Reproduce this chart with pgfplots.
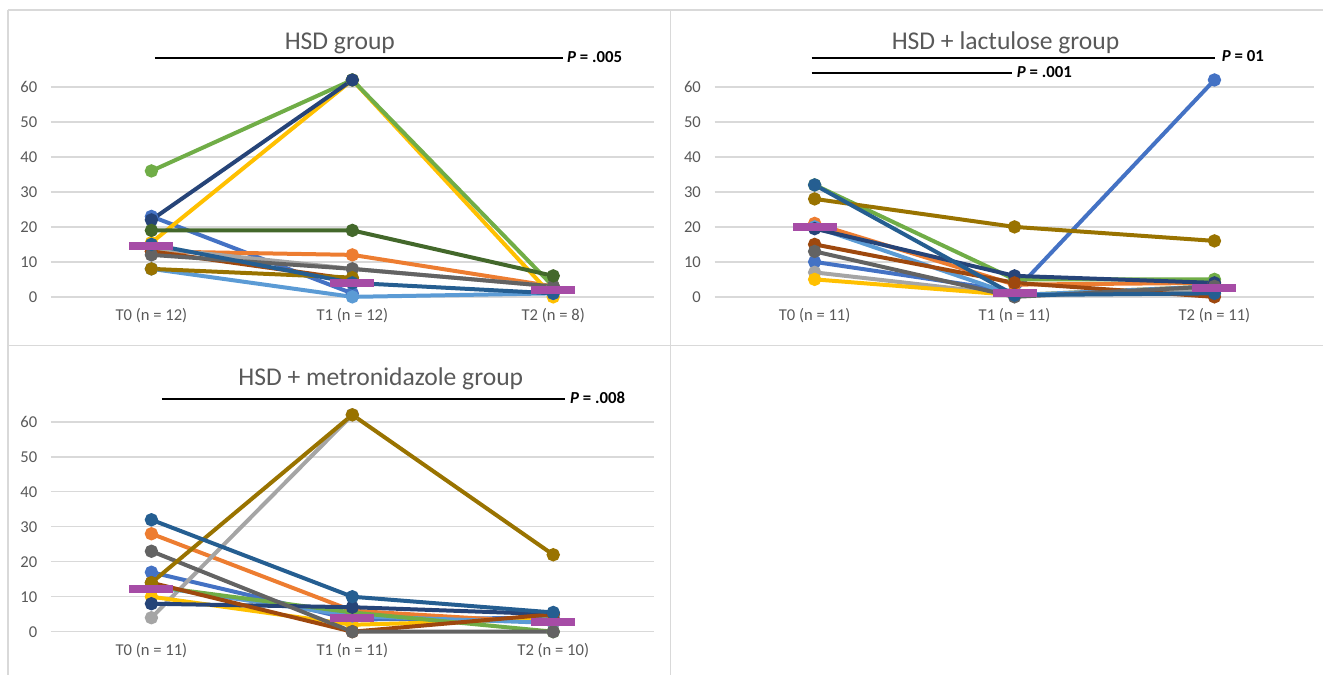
\documentclass[border=0pt]{standalone}
\usepackage{fontspec}
\setmainfont{Carlito}
\usepackage{pgfplots}
\pgfplotsset{compat=1.18}
\definecolor{c1}{HTML}{4472C4}
\definecolor{c2}{HTML}{ED7D31}
\definecolor{c3}{HTML}{A5A5A5}
\definecolor{c4}{HTML}{FFC000}
\definecolor{c5}{HTML}{5B9BD5}
\definecolor{c6}{HTML}{70AD47}
\definecolor{c7}{HTML}{264478}
\definecolor{c8}{HTML}{9E480E}
\definecolor{c9}{HTML}{636363}
\definecolor{c10}{HTML}{997300}
\definecolor{c11}{HTML}{255E91}
\definecolor{c12}{HTML}{43682B}
\definecolor{med}{HTML}{A64CA6}
\definecolor{gridgray}{HTML}{D9D9D9}
\definecolor{txtgray}{HTML}{595959}
\pgfdeclareplotmark{medbar}{\pgfpathrectangle{\pgfpoint{-11pt}{-2pt}}{\pgfpoint{22pt}{4pt}}\pgfusepathqfill}
\newcommand{\pxy}[2]{({(#1)*0.5pt},{(675-(#2))*0.5pt})}
\pgfplotsset{
  panel/.style={
    scale only axis, height=105pt,
    xmin=-0.5, xmax=2.5, ymin=0, ymax=60,
    xtick={0,1,2}, ytick={0,10,...,60},
    axis line style={draw=none},
    major tick length=0pt,
    ymajorgrids, grid style={line width=0.7pt, color=gridgray},
    clip=false,
    tick label style={font=\fontsize{8.3}{9}\selectfont, text=txtgray},
    /pgf/number format/assume math mode=true,
    yticklabel style={anchor=east, inner sep=0pt, xshift=-6.7pt},
    xticklabel style={anchor=base, inner sep=0pt, yshift=-12pt},
    every axis plot/.append style={line width=2pt, mark=*, mark size=2.3pt, mark options={solid}},
  },
  medstyle/.style={only marks, mark=medbar, color=med},
}
\begin{document}
\begin{tikzpicture}
\path \pxy{0}{675} rectangle \pxy{1324}{0};
% panel borders
\draw[gridgray, line width=0.6pt] \pxy{8}{10} -- \pxy{1324}{10};
\draw[gridgray, line width=0.6pt] \pxy{8}{10} -- \pxy{8}{675};
\draw[gridgray, line width=0.6pt] \pxy{671}{10} -- \pxy{671}{675};
\draw[gridgray, line width=0.6pt] \pxy{8}{346} -- \pxy{1324}{346};

% ---------- Panel 1 ----------
\begin{axis}[panel, width=301.5pt, at={(25.5pt,189pt)}, anchor=south west,
  xticklabels={T0 (n = 12), T1 (n = 12), T2 (n = 8)}]
\addplot[c1] coordinates {(0,23) (1,1)};
\addplot[c2] coordinates {(0,13) (1,12) (2,3)};
\addplot[c3] coordinates {(0,14) (1,8) (2,3)};
\addplot[c4] coordinates {(0,15.5) (1,62) (2,0)};
\addplot[c5] coordinates {(0,8) (1,0) (2,1)};
\addplot[c6] coordinates {(0,36) (1,62) (2,3)};
\addplot[c7] coordinates {(0,22) (1,62)};
\addplot[c8] coordinates {(0,13) (1,5)};
\addplot[c9] coordinates {(0,12) (1,8) (2,3)};
\addplot[c10] coordinates {(0,8) (1,5.5)};
\addplot[c11] coordinates {(0,15) (1,4) (2,1)};
\addplot[c12] coordinates {(0,19) (1,19) (2,6)};
\addplot[medstyle] coordinates {(0,14.5) (1,4) (2,2)};
\end{axis}

% ---------- Panel 2 ----------
\begin{axis}[panel, width=300pt, at={(357.5pt,189pt)}, anchor=south west,
  xticklabels={T0 (n = 11), T1 (n = 11), T2 (n = 11)}]
\addplot[c1] coordinates {(0,10) (1,1.5) (2,62)};
\addplot[c2] coordinates {(0,21) (1,3.5) (2,4)};
\addplot[c3] coordinates {(0,7) (1,0.5) (2,2)};
\addplot[c4] coordinates {(0,5) (1,0.5) (2,3)};
\addplot[c5] coordinates {(0,20) (1,0.5) (2,3)};
\addplot[c6] coordinates {(0,32) (1,5) (2,5)};
\addplot[c7] coordinates {(0,19.5) (1,6) (2,4)};
\addplot[c8] coordinates {(0,15) (1,4) (2,0)};
\addplot[c9] coordinates {(0,13) (1,0) (2,3)};
\addplot[c10] coordinates {(0,28) (1,20) (2,16)};
\addplot[c11] coordinates {(0,32) (1,0.5) (2,1)};
\addplot[medstyle] coordinates {(0,20) (1,1) (2,2.5)};
\end{axis}

% ---------- Panel 3 ----------
\begin{axis}[panel, width=301.5pt, at={(25.5pt,21.5pt)}, anchor=south west,
  xticklabels={T0 (n = 11), T1 (n = 11), T2 (n = 10)}]
\addplot[c1] coordinates {(0,17) (1,3.5) (2,4)};
\addplot[c2] coordinates {(0,28) (1,6) (2,2.5)};
\addplot[c3] coordinates {(0,4) (1,62)};
\addplot[c4] coordinates {(0,10) (1,2) (2,3.5)};
\addplot[c5] coordinates {(0,13) (1,4.5) (2,2.5)};
\addplot[c6] coordinates {(0,13) (1,5.5) (2,0)};
\addplot[c7] coordinates {(0,8) (1,7) (2,5)};
\addplot[c8] coordinates {(0,14) (1,0) (2,5)};
\addplot[c9] coordinates {(0,23) (1,0) (2,0)};
\addplot[c10] coordinates {(0,14) (1,62) (2,22)};
\addplot[c11] coordinates {(0,32) (1,10) (2,5.5)};
\addplot[medstyle] coordinates {(0,12.3) (1,4) (2,2.7)};
\end{axis}

% titles
\node[anchor=base, text=txtgray, font=\fontsize{12.8}{14}\selectfont, inner sep=0pt] at \pxy{340}{50} {HSD group};
\node[anchor=base, text=txtgray, font=\fontsize{12.8}{14}\selectfont, inner sep=0pt] at \pxy{1006}{50} {HSD + lactulose group};
\node[anchor=base, text=txtgray, font=\fontsize{12.8}{14}\selectfont, inner sep=0pt] at \pxy{381}{386} {HSD + metronidazole group};

% significance lines
\draw[black, line width=0.75pt] \pxy{155}{58} -- \pxy{563}{58};
\node[anchor=west, inner sep=0pt, font=\fontsize{8.4}{9}\selectfont\bfseries] at \pxy{567}{57} {\textit{P} = .005};
\draw[black, line width=0.75pt] \pxy{812}{58} -- \pxy{1216}{58};
\node[anchor=west, inner sep=0pt, font=\fontsize{8.4}{9}\selectfont\bfseries] at \pxy{1222}{56} {\textit{P} = 01};
\draw[black, line width=0.75pt] \pxy{812}{73} -- \pxy{1012}{73};
\node[anchor=west, inner sep=0pt, font=\fontsize{8.4}{9}\selectfont\bfseries] at \pxy{1017}{72} {\textit{P} = .001};
\draw[black, line width=0.75pt] \pxy{162}{399} -- \pxy{565}{399};
\node[anchor=west, inner sep=0pt, font=\fontsize{8.4}{9}\selectfont\bfseries] at \pxy{570}{398} {\textit{P} = .008};
\end{tikzpicture}
\end{document}
